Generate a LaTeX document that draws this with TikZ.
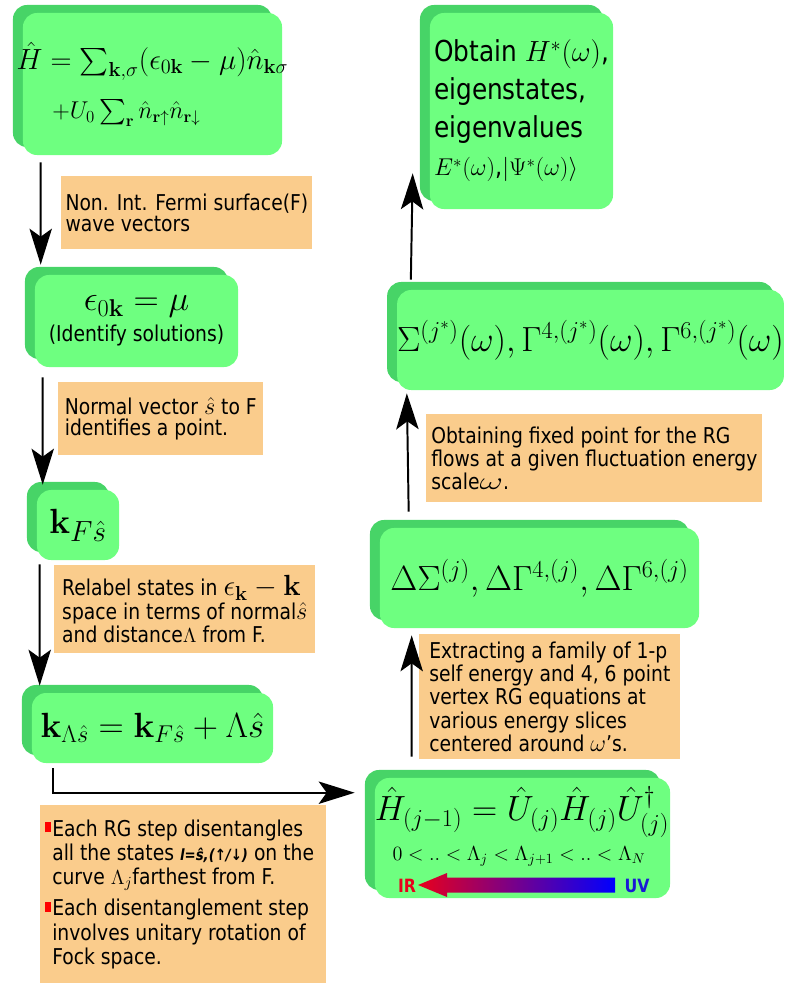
\documentclass[tikz,border=0pt]{standalone}
\usepackage[no-math]{fontspec}
\setmainfont{DejaVu Sans}[FakeStretch=0.86]
\usepackage{amsmath,amssymb}
\usepackage{graphicx}
\usepackage{tikz}
\usetikzlibrary{arrows.meta,positioning,calc,shadows}
\definecolor{BoxGreen}{HTML}{6EFF80}
\definecolor{ShadeGreen}{HTML}{47D467}
\definecolor{NoteOrange}{HTML}{FACC8C}
\definecolor{IRRed}{HTML}{E8001C}
\definecolor{UVBlue}{HTML}{1A1AD6}
\tikzset{
  flowarrow/.style={-{Stealth[length=0.9cm,width=0.56cm,inset=0.2cm]}, line width=1.4pt},
  stepbox/.style={fill=BoxGreen, rounded corners=10pt, inner sep=2pt, align=center,
    general shadow={fill=ShadeGreen, shadow xshift=-0.25cm, shadow yshift=0.2cm}},
  notebox/.style={fill=NoteOrange, anchor=north west, align=left, inner xsep=3pt,
    font=\fontsize{15.5}{16.6}\selectfont}
}
\newcommand\notemath[1]{{\fontsize{19}{16}\selectfont$#1$}}
\newcommand\redbullet{\llap{\textcolor{red}{\rule[0.1cm]{0.15cm}{0.25cm}}\hspace{0.04cm}}}

\begin{document}
\begin{tikzpicture}[x=0.025cm, y=-0.025cm]
\useasboundingbox (0,0) rectangle (786,986);

% left column
\node[stepbox, minimum width=6.475cm, minimum height=3.55cm, inner sep=0pt, font=\fontsize{19.5}{35}\selectfont] (hamil) at (152.5,84)
  {\makebox[0pt]{$\hat{H}=\sum_{\mathbf{k},\sigma}(\epsilon_{0\mathbf{k}}-\mu)\hat{n}_{\mathbf{k}\sigma}$}\\
   \makebox[0pt]{\fontsize{18}{35}\selectfont$+U_0\sum_{\mathbf{r}}\hat{n}_{\mathbf{r}\uparrow}\hat{n}_{\mathbf{r}\downarrow}$\kern1.3cm}};
\node[stepbox, minimum width=5.075cm, minimum height=2.3cm, font=\fontsize{27}{22}\selectfont] (fermi) at (136.5,321)
  {$\epsilon_{0\mathbf{k}}=\mu$\\{\fontsize{15.5}{16}\selectfont(Identify solutions)}};
\node[stepbox, minimum width=2.05cm, minimum height=1.75cm, font=\fontsize{28}{30}\selectfont] (kfs) at (78,525)
  {$\mathbf{k}_{F\hat{s}}$};
\node[stepbox, minimum width=6.025cm, minimum height=1.75cm, font=\fontsize{24}{30}\selectfont] (klam) at (152.5,728)
  {$\mathbf{k}_{\Lambda\hat{s}}=\mathbf{k}_{F\hat{s}}+\Lambda\hat{s}$};

\node[notebox, minimum width=6.275cm, minimum height=1.825cm, font=\fontsize{15.5}{14.5}\selectfont] (note1) at (61,176)
  {Non. Int. Fermi surface(F)\\wave vectors};
\node[notebox, minimum width=5.125cm, minimum height=1.825cm, font=\fontsize{15.5}{15.5}\selectfont] (note2) at (58,382)
  {Normal vector \notemath{\hat{s}} to F\\identifies a point.};
\node[notebox, minimum width=6.525cm, minimum height=2.2cm] (note3) at (54,565)
  {Relabel states in {\fontsize{21}{16}\selectfont$\epsilon_{\mathbf{k}}-\mathbf{k}$}\\space in terms of normal\notemath{\hat{s}}\\and distance$\Lambda$ from F.};
\node[notebox, minimum width=7cm, minimum height=4.45cm, inner xsep=0.3cm, font=\fontsize{15.5}{17.2}\selectfont] (note4) at (40,805)
  {\redbullet Each RG step disentangles\\all the states {\fontsize{11}{12}\selectfont\bfseries\itshape l=ŝ,(↑/↓)} on the\\curve $\Lambda_j$farthest from F.\\[5pt]
   \redbullet Each disentanglement step\\involves unitary rotation of\\Fock space.};

% right column
\node[stepbox, minimum width=7.375cm, minimum height=3cm] (hrg) at (522.5,838) {};
\node[font=\fontsize{23}{25}\selectfont] (hrgeq) at (522,812) {$\hat{H}_{(j-1)}=\hat{U}_{(j)}\hat{H}_{(j)}\hat{U}^{\dagger}_{(j)}$};
\node[font=\fontsize{14.5}{16}\selectfont] (cutoffs) at (519,856) {$0<..<\Lambda_j<\Lambda_{j+1}<..<\Lambda_N$};
\node[font=\fontsize{13}{14}\selectfont\bfseries, text=IRRed] (irtag) at (407,886) {IR};
\node[font=\fontsize{13}{14}\selectfont\bfseries, text=UVBlue] (uvtag) at (637,886) {UV};
\coordinate (irtip) at (418,885);
\coordinate (uvend) at (615,885);
\shade[left color=IRRed, right color=blue] (irtip) -- ($(irtip)+(29,-12)$) -- ($(irtip)+(29,-7.5)$)
  -- ($(uvend)+(0,-7.5)$) -- ($(uvend)+(0,7.5)$) -- ($(irtip)+(29,7.5)$) -- ($(irtip)+(29,12)$) -- cycle;

\node[stepbox, minimum width=7.975cm, minimum height=2.5cm, font=\fontsize{23}{25}\selectfont] (delta) at (539.5,578)
  {$\Delta\Sigma^{(j)},\Delta\Gamma^{4,(j)},\Delta\Gamma^{6,(j)}$};
\node[stepbox, minimum width=9.575cm, minimum height=2.5cm, inner sep=0pt, font=\fontsize{25.5}{25}\selectfont] (fixpt) at (590.5,340)
  {$\Sigma^{(j^*)}(\omega),\Gamma^{4,(j^*)}(\omega),\Gamma^{6,(j^*)}(\omega)$};
\node[stepbox, minimum width=4.575cm, minimum height=4.9cm, align=left, font=\fontsize{20.5}{27}\selectfont] (obtain) at (521.5,111)
  {Obtain $H^*(\omega)$,\\eigenstates,\\eigenvalues\\{\fontsize{18.5}{27}\selectfont$E^*(\omega)$,$|\Psi^*(\omega)\rangle$}};

\node[notebox, minimum width=6.525cm, minimum height=3.125cm] (note5) at (419,634)
  {Extracting a family of 1-p\\self energy and 4, 6 point\\vertex RG equations at\\various energy slices\\centered around \notemath{\omega}'s.};
\node[notebox, minimum width=8.4cm, minimum height=2.2cm] (note6) at (426,414)
  {Obtaining fixed point for the RG\\flows at a given fluctuation energy\\scale\scalebox{1.5}[1]{\fontsize{19}{16}\selectfont$\omega$}.};

% connectors
\draw[flowarrow] ($(hamil.south west)+(18,7)$) -- ($(fermi.north west)+(6,-10)$);
\draw[flowarrow] ($(fermi.south west)+(8,10)$) -- ($(kfs.north west)+(6,-5)$);
\draw[flowarrow] ($(kfs.south west)+(3,4)$) -- ($(klam.north west)+(8,-7)$);
\draw[flowarrow] ($(klam.south west)+(21,5)$) |- ($(hrg.north west)+(-20,15)$);
\draw[flowarrow] ($(hrg.north west)+(37,-21)$) -- ($(delta.south west)+(32,7)$);
\draw[flowarrow] ($(delta.north west)+(29,-16)$) -- ($(fixpt.south west)+(10,3)$);
\draw[flowarrow] ($(fixpt.north west)+(14,-10)$) -- ($(obtain.south west)+(-17,-36)$);
\end{tikzpicture}
\end{document}
